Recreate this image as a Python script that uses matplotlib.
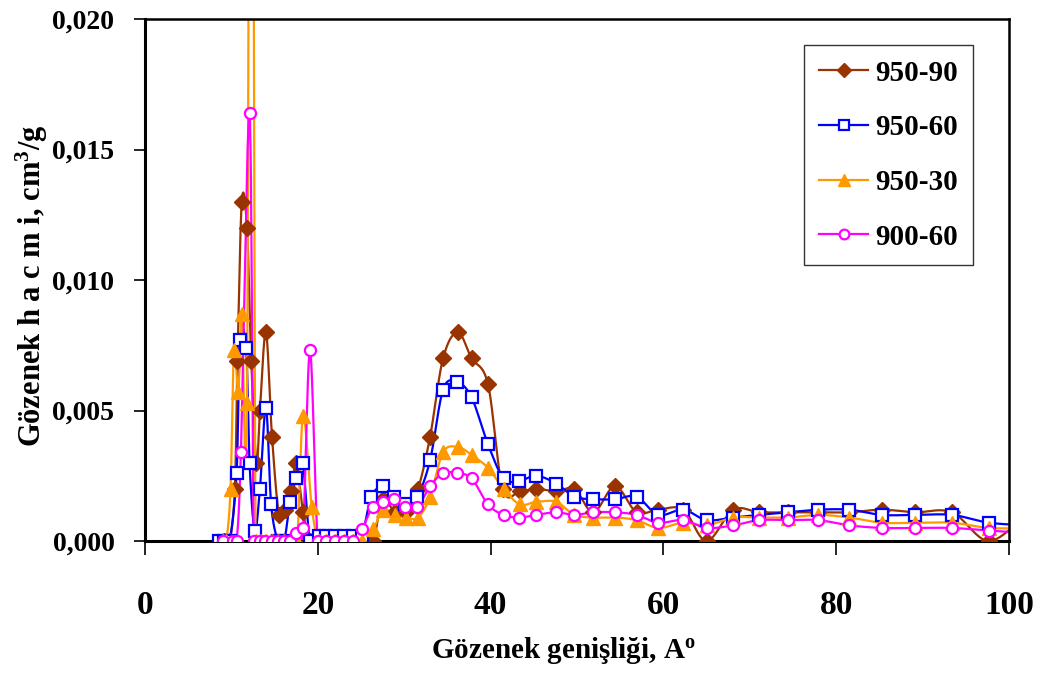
import numpy as np
import matplotlib
matplotlib.use("Agg")
import matplotlib.pyplot as plt
from matplotlib.ticker import FuncFormatter

# ---------------- data ----------------
labels = ["950-90", "950-60", "950-30", "900-60"]

x_950_90 = [9.1, 9.8, 10.4, 10.7, 11.2, 11.8, 12.3, 12.9, 13.3, 14.0, 14.7, 15.5, 16.2, 16.9,
            17.5, 18.3, 19.1, 20.1, 21.0, 22.0, 23.0, 24.1, 25.1, 26.4, 27.5, 28.9, 30.2, 31.6,
            33.0, 34.5, 36.2, 37.8, 39.7, 41.4, 43.4, 45.3, 47.6, 49.7, 51.9, 54.4, 56.9, 59.4,
            62.3, 65.0, 68.1, 71.1, 74.4, 77.9, 81.5, 85.3, 89.1, 93.4, 97.7, 102.2]
y_950_90 = [0.0, 0.0, 0.0020, 0.0069, 0.0130, 0.0120, 0.0069, 0.0030, 0.0050, 0.0080, 0.0040,
            0.0010, 0.0012, 0.0019, 0.0030, 0.0011, 0.0, 0.0, 0.0, 0.0, 0.0, 0.0, 0.0, 0.0,
            0.0016, 0.0011, 0.0011, 0.0020, 0.0040, 0.0070, 0.0080, 0.0070, 0.0060, 0.0020,
            0.0019, 0.0020, 0.0019, 0.0020, 0.0011, 0.0021, 0.0011, 0.0012, 0.0012, 0.0,
            0.0012, 0.0011, 0.0011, 0.0011, 0.0011, 0.0012, 0.0011, 0.0011, 0.0, 0.0011]

x_950_60 = [8.6, 9.2, 9.8, 10.6, 11.0, 11.7, 12.1, 12.7, 13.3, 14.0, 14.6, 15.4, 16.1, 16.8,
            17.5, 18.25, 19.1, 20.1, 21.0, 22.0, 23.0, 24.1, 25.1, 26.2, 27.6, 28.8, 30.1, 31.5,
            33.0, 34.5, 36.1, 37.8, 39.7, 41.5, 43.3, 45.3, 47.6, 49.7, 51.9, 54.4, 56.9, 59.4,
            62.3, 65.0, 68.1, 71.1, 74.4, 77.9, 81.5, 85.3, 89.1, 93.4, 97.7, 102.2]
y_950_60 = [0.0, 0.0, 0.0, 0.0026, 0.0077, 0.0074, 0.0030, 0.0004, 0.0020, 0.0051, 0.0014,
            0.0, 0.0, 0.0015, 0.0024, 0.0030, 0.0, 0.0002, 0.0002, 0.0002, 0.0002, 0.0002,
            0.0002, 0.0017, 0.0021, 0.0017, 0.0014, 0.0017, 0.0031, 0.0058, 0.0061, 0.0055,
            0.0037, 0.0024, 0.0023, 0.0025, 0.0022, 0.0017, 0.0016, 0.0016, 0.0017, 0.0010,
            0.0012, 0.0008, 0.0009, 0.0010, 0.0011, 0.0012, 0.0012, 0.0010, 0.0010, 0.0010,
            0.0007, 0.0006]

x_950_30 = [9.0, 9.4, 9.9, 10.3, 10.8, 11.2, 11.8, 12.3, 12.8, 13.4, 14.0, 14.7, 15.4, 16.1,
            16.8, 17.6, 18.3, 19.3, 20.1, 21.0, 22.0, 23.0, 24.1, 25.1, 26.4, 27.6, 28.9, 30.2,
            31.6, 33.0, 34.5, 36.2, 37.8, 39.7, 41.5, 43.4, 45.3, 47.6, 49.7, 51.9, 54.4, 56.9,
            59.4, 62.3, 65.0, 68.1, 71.1, 74.4, 77.9, 81.5, 85.3, 89.1, 93.4, 97.7, 102.2]
y_950_30 = [0.0, 0.0, 0.0020, 0.0073, 0.0057, 0.0087, 0.0053, 0.0500, 0.0, 0.0, 0.0, 0.0, 0.0,
            0.0, 0.0, 0.0, 0.0048, 0.0013, 0.0, 0.0, 0.0, 0.0, 0.0, 0.0, 0.00045, 0.0012,
            0.0010, 0.0009, 0.0009, 0.0017, 0.0034, 0.0036, 0.0033, 0.0028, 0.0020, 0.0014,
            0.0015, 0.0015, 0.0010, 0.0009, 0.0009, 0.0008, 0.0005, 0.0007, 0.0006, 0.0009,
            0.0009, 0.0009, 0.0010, 0.0009, 0.0007, 0.0007, 0.0007, 0.0005, 0.0005]

x_900_60 = [9.0, 10.2, 10.6, 11.1, 12.1, 12.6, 13.3, 13.9, 14.7, 15.4, 16.1, 16.8, 17.5, 18.3,
            19.1, 20.0, 21.0, 22.0, 23.0, 24.1, 25.1, 26.35, 27.6, 28.8, 30.1, 31.5, 33.0, 34.5,
            36.1, 37.8, 39.7, 41.5, 43.3, 45.3, 47.6, 49.7, 51.9, 54.4, 56.9, 59.4, 62.3, 65.0,
            68.1, 71.1, 74.4, 77.9, 81.5, 85.3, 89.1, 93.4, 97.7, 102.2]
y_900_60 = [0.0, 0.0, 0.0, 0.0034, 0.0164, 0.0, 0.0, 0.0, 0.0, 0.0, 0.0, 0.0, 0.0003, 0.0005,
            0.0073, 0.0, 0.0, 0.0, 0.0, 0.0, 0.00045, 0.0013, 0.0015, 0.0016, 0.0013, 0.0013,
            0.0021, 0.0026, 0.0026, 0.0024, 0.0014, 0.0010, 0.0009, 0.0010, 0.0011, 0.0010,
            0.0011, 0.0011, 0.0010, 0.0007, 0.0008, 0.0005, 0.0006, 0.0008, 0.0008, 0.0008,
            0.0006, 0.0005, 0.0005, 0.0005, 0.0004, 0.0003]

x_ticks = [0, 20, 40, 60, 80, 100]
y_ticks = [0.000, 0.005, 0.010, 0.015, 0.020]


def smooth(x, y, n=24):
    """Excel-like smoothed line (Catmull-Rom as cubic Bezier)."""
    p = np.column_stack([x, y]).astype(float)
    out = []
    t = np.linspace(0, 1, n)[:, None]
    for i in range(len(p) - 1):
        p0 = p[i - 1] if i > 0 else p[i]
        p1, p2 = p[i], p[i + 1]
        p3 = p[i + 2] if i + 2 < len(p) else p[i + 1]
        c1 = p1 + (p2 - p0) / 6.0
        c2 = p2 - (p3 - p1) / 6.0
        seg = ((1 - t) ** 3) * p1 + 3 * ((1 - t) ** 2) * t * c1 + 3 * (1 - t) * t ** 2 * c2 + t ** 3 * p2
        out.append(seg if i == 0 else seg[1:])
    s = np.vstack(out)
    return s[:, 0], s[:, 1]


plt.rcParams['font.family'] = ['Liberation Serif', 'DejaVu Serif']
plt.rcParams['font.weight'] = 'bold'
plt.rcParams['mathtext.fontset'] = 'custom'
plt.rcParams['mathtext.bf'] = 'Liberation Serif:bold'
plt.rcParams['mathtext.rm'] = 'Liberation Serif:bold'
plt.rcParams['mathtext.it'] = 'Liberation Serif:bold'

fig = plt.figure(figsize=(10.4, 6.73), dpi=100)
ax = fig.add_axes([145 / 1040, (673 - 541) / 673, 864 / 1040, 522 / 673])

styles = [
    dict(color='#993300', marker='D', ms=8, mfc='#993300', mec='#993300', mew=1),
    dict(color='#0000FF', marker='s', ms=8, mfc='white', mec='#0000FF', mew=1.6),
    dict(color='#FF9900', marker='^', ms=10, mfc='#FF9900', mec='#FF9900', mew=1),
    dict(color='#FF00FF', marker='o', ms=8, mfc='white', mec='#FF00FF', mew=1.6),
]
series = [(x_950_90, y_950_90), (x_950_60, y_950_60), (x_950_30, y_950_30), (x_900_60, y_900_60)]

for (xs, ys), st, lab in zip(series, styles, labels):
    sx, sy = smooth(xs, ys)
    ax.plot(sx, sy, color=st['color'], lw=1.6, zorder=2)
    ax.plot(xs, ys, linestyle='none', marker=st['marker'], ms=st['ms'], mfc=st['mfc'],
            mec=st['mec'], mew=st['mew'], zorder=3)
    # legend proxy
    ax.plot([], [], color=st['color'], lw=1.6, marker=st['marker'], ms=st['ms'] - 1,
            mfc=st['mfc'], mec=st['mec'], mew=st['mew'], label=lab)

ax.set_xlim(0, 100)
ax.set_ylim(0, 0.020)
ax.set_xticks(x_ticks)
ax.set_yticks(y_ticks)
ax.yaxis.set_major_formatter(FuncFormatter(lambda v, p: f"{v:.3f}".replace('.', ',')))
ax.tick_params(axis='x', direction='out', length=10, width=1.2, pad=25, labelsize=24)
ax.tick_params(axis='y', direction='out', length=8, width=1.2, pad=14, labelsize=20)
for lab in ax.get_xticklabels() + ax.get_yticklabels():
    lab.set_fontweight('bold')

for side in ['left', 'bottom']:
    ax.spines[side].set_linewidth(2.2)
for side in ['top', 'right']:
    ax.spines[side].set_linewidth(1.8)

ax.set_xlabel("Gözenek genişliği, A$^{\\mathbf{o}}$", fontsize=21, fontweight='bold')
ax.xaxis.set_label_coords((563 - 145) / 864, (541 - 650) / 522)
ax.xaxis.label.set_va('center')
ax.set_ylabel("Gözenek h a c m i, cm$^{\\mathbf{3}}$/g", fontsize=22, fontweight='bold')
ax.yaxis.set_label_coords((32 - 145) / 864, (541 - 286) / 522)
ax.yaxis.label.set_va('center')

leg = ax.legend(loc='upper right', bbox_to_anchor=((973 - 145) / 864, (541 - 45) / 522),
                prop=dict(family='Liberation Serif', weight='bold', size=21),
                frameon=True, fancybox=False, edgecolor='black', handlelength=1.7,
                handletextpad=0.25, labelspacing=0.95, borderpad=0.5, borderaxespad=0)
leg.get_frame().set_linewidth(1.0)

fig.savefig("out.png", dpi=100, facecolor='white')
